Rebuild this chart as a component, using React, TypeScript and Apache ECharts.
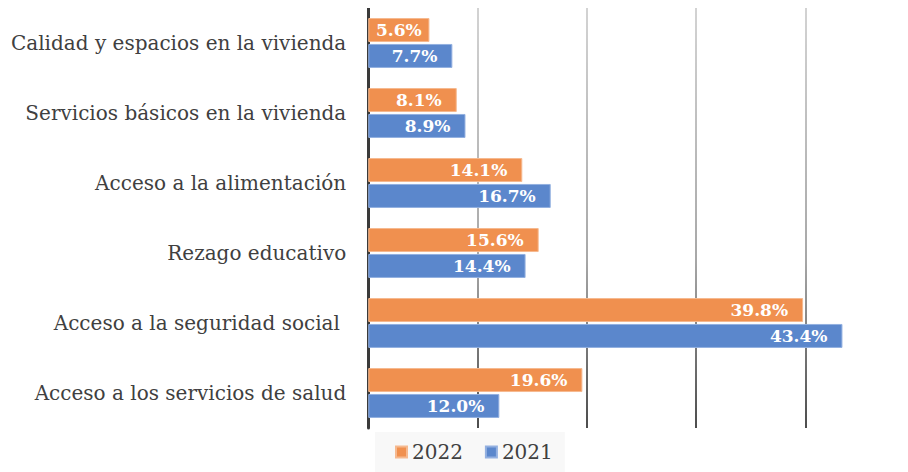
import React, { useEffect, useRef } from "react";
import * as echarts from "echarts";

const categories = [
  "Calidad y espacios en la vivienda",
  "Servicios básicos en la vivienda",
  "Acceso a la alimentación",
  "Rezago educativo",
  "Acceso a la seguridad social ",
  "Acceso a los servicios de salud",
];
const values2022 = [5.6, 8.1, 14.1, 15.6, 39.8, 19.6];
const values2021 = [7.7, 8.9, 16.7, 14.4, 43.4, 12.0];
const seriesNames = ["2022", "2021"];

const FONT = "'DejaVu Serif', 'Liberation Serif', serif";

export default function App() {
  const ref = useRef<HTMLDivElement>(null);
  useEffect(() => {
    if (!ref.current) return;
    const chart = echarts.init(ref.current, undefined, { renderer: "svg" });
    const gridGrad = new echarts.graphic.LinearGradient(
      0, 0, 0, 420,
      [
        { offset: 0, color: "#c4c4c4" },
        { offset: 0.6, color: "#8a8a8a" },
        { offset: 1, color: "#111111" },
      ],
      true
    );
    const label = {
      show: true,
      position: "insideRight",
      distance: 15,
      color: "#ffffff",
      fontFamily: FONT,
      fontWeight: "bold",
      fontSize: 17,
      formatter: (p: any) => p.value.toFixed(1) + "%",
    };
    const mk = (vals: number[]) =>
      vals.map((v) =>
        v < 7 ? { value: v, label: { position: "inside" } } : { value: v }
      );
    chart.setOption({
      animation: false,
      grid: { left: 360, top: 0, right: 0, height: 420 },
      legend: {
        data: seriesNames,
        top: 424,
        left: 367,
        itemWidth: 11,
        itemHeight: 11,
        itemGap: 22,
        padding: [10, 12, 10, 20],
        backgroundColor: "#f8f8f8",
        textStyle: { fontFamily: FONT, fontSize: 20, color: "#404040" },
        icon: "rect",
      },
      xAxis: {
        type: "value",
        min: 0,
        max: 49.4,
        interval: 10,
        axisLabel: { show: false },
        axisLine: { show: false },
        axisTick: { show: false },
        splitLine: { show: true, lineStyle: { color: gridGrad, width: 1.5 } },
      },
      yAxis: {
        type: "category",
        data: categories,
        inverse: true,
        axisLine: { show: true, lineStyle: { color: "#3a3a3a", width: 3 } },
        axisTick: { show: false },
        axisLabel: {
          fontFamily: FONT,
          fontSize: 20,
          color: "#404040",
          margin: 22,
        },
      },
      series: [
        {
          name: seriesNames[0],
          type: "bar",
          data: mk(values2022),
          barWidth: 24,
          barGap: "8%",
          itemStyle: { color: "#F0904F", borderColor: "#F6B98F", borderWidth: 1 },
          label,
        },
        {
          name: seriesNames[1],
          type: "bar",
          data: mk(values2021),
          barWidth: 24,
          barGap: "8%",
          itemStyle: { color: "#5B87CC", borderColor: "#93B0E0", borderWidth: 1 },
          label,
        },
      ],
    });
    return () => chart.dispose();
  }, []);
  return <div ref={ref} style={{ width: 900, height: 464 }} />;
}
